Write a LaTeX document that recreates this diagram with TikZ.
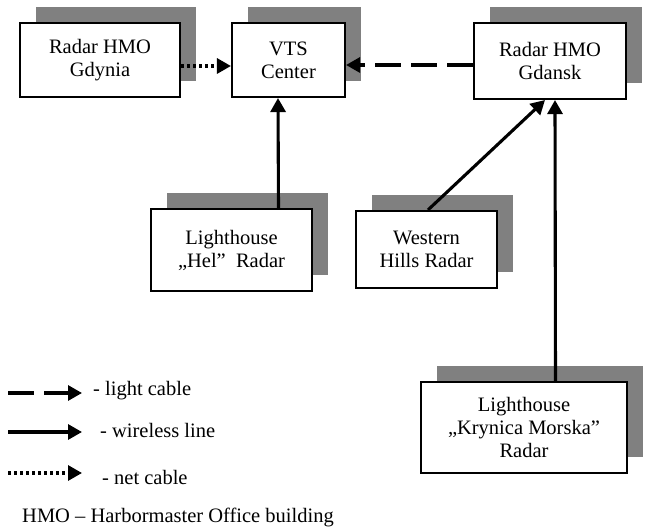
\documentclass[tikz,border=0pt]{standalone}
\usepackage{fontspec}
\setmainfont{Liberation Serif}
\usetikzlibrary{arrows.meta, shadows}
\definecolor{shade}{RGB}{128,128,128}

\begin{document}
\begin{tikzpicture}[x=1pt, y=-1pt,
  box/.style={draw, line width=2.1pt, fill=white, align=center, inner sep=0pt, font=\fontsize{20.5}{23}\selectfont, general shadow={fill=shade, shadow xshift=16pt, shadow yshift=15.5pt}},
  con/.style={line width=3.1pt, -{Triangle[length=14pt, width=15pt]}},
  light/.style={con, dash pattern=on 26pt off 10pt},
  net/.style={con, dash pattern=on 3pt off 3pt},
  txt/.style={anchor=base west, inner sep=0pt, font=\fontsize{20.5}{23}\selectfont}]
  \useasboundingbox (0,0) rectangle (649,529);

  % radar stations and the centre
  \node[box, minimum width=160pt, minimum height=74pt] (gdynia) at (100,60) {Radar HMO\\Gdynia};
  \node[box, minimum width=113pt, minimum height=74pt] (vts) at (288.5,60) {VTS\\Center};
  \node[box, minimum width=152pt, minimum height=76pt] (gdansk) at (550,61) {Radar HMO\\Gdansk};
  \node[box, minimum width=161pt, minimum height=82pt] (hel) at (231.5,250) {Lighthouse\\„Hel”~~Radar};
  \node[box, minimum width=141pt, minimum height=77pt] (western) at (426.5,249.5) {Western\\Hills Radar};
  \node[box, minimum width=206pt, minimum height=91pt] (krynica) at (524,427.5) {Lighthouse\\„Krynica Morska”\\Radar};

  % links
  \draw[net] ([yshift=-6pt]gdynia.east) -- ([yshift=-6pt]vts.west);
  \draw[light] ([yshift=-4pt]gdansk.west) -- ([yshift=-5pt]vts.east);
  \draw[con] ([xshift=47pt]hel.north) -- ([xshift=-10.5pt]vts.south);
  \draw[con] ([xshift=1.5pt]western.north) -- ([xshift=-5pt]gdansk.south);
  \draw[con] ([xshift=31.5pt]krynica.north) -- ([xshift=5pt]gdansk.south);

  % legend
  \coordinate (la) at (8,393);
  \coordinate (lb) at (82,393);
  \coordinate (wa) at (8,432);
  \coordinate (wb) at (82,432);
  \coordinate (na) at (8,473);
  \coordinate (nb) at (82,473);
  \draw[light] (la) -- (lb);
  \draw[con] (wa) -- (wb);
  \draw[net] (na) -- (nb);
  \node[txt] (lighttxt) at (93,396) {- light cable};
  \node[txt] (wirelesstxt) at (100,438) {- wireless line};
  \node[txt] (nettxt) at (102,485) {- net cable};
  \node[txt] (hmotxt) at (22,523) {HMO – Harbormaster Office building};
\end{tikzpicture}
\end{document}
